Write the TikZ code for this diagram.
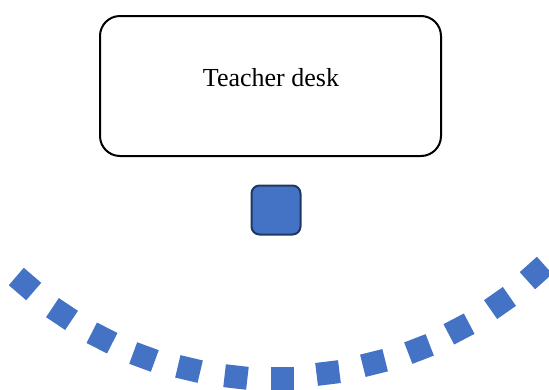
\documentclass[tikz,border=0pt]{standalone}
\usepackage{fontspec}
\setmainfont{Liberation Serif}
\definecolor{officeblue}{RGB}{68,114,196}
\definecolor{navy}{RGB}{31,56,100}
\tikzset{
  deskbox/.style={draw=black, line width=2pt, rounded corners=20pt, minimum width=341pt, minimum height=140pt, fill=white},
  teacher/.style={draw=navy, fill=officeblue, line width=2pt, rounded corners=8pt, minimum width=49pt, minimum height=49pt, inner sep=0pt},
  seat/.style={fill=officeblue, minimum width=23pt, minimum height=23pt, inner sep=0pt}
}
\begin{document}
\begin{tikzpicture}[x=1pt, y=-1pt]
\useasboundingbox (0,0) rectangle (549,389);
\node[deskbox] (desk) at (270.5,86) {};
\node[font=\fontsize{26}{31}\selectfont] (label) at (271,78) {Teacher desk};
\node[teacher] (t) at (276,210) {};
\foreach \x/\y/\r [count=\i] in {25/284/-40.75, 62/314/-33.8, 102/338/-27, 144/357/-20.2, 189/369/-13.4, 236/377/-6.5, 282/378/0, 328/373/7, 374/363/14, 419/349/21.1, 459/329/27.7, 500/303/34.9, 536/273/41.9}
  \node[seat, rotate=\r] (s\i) at (\x,\y) {};
\end{tikzpicture}
\end{document}
